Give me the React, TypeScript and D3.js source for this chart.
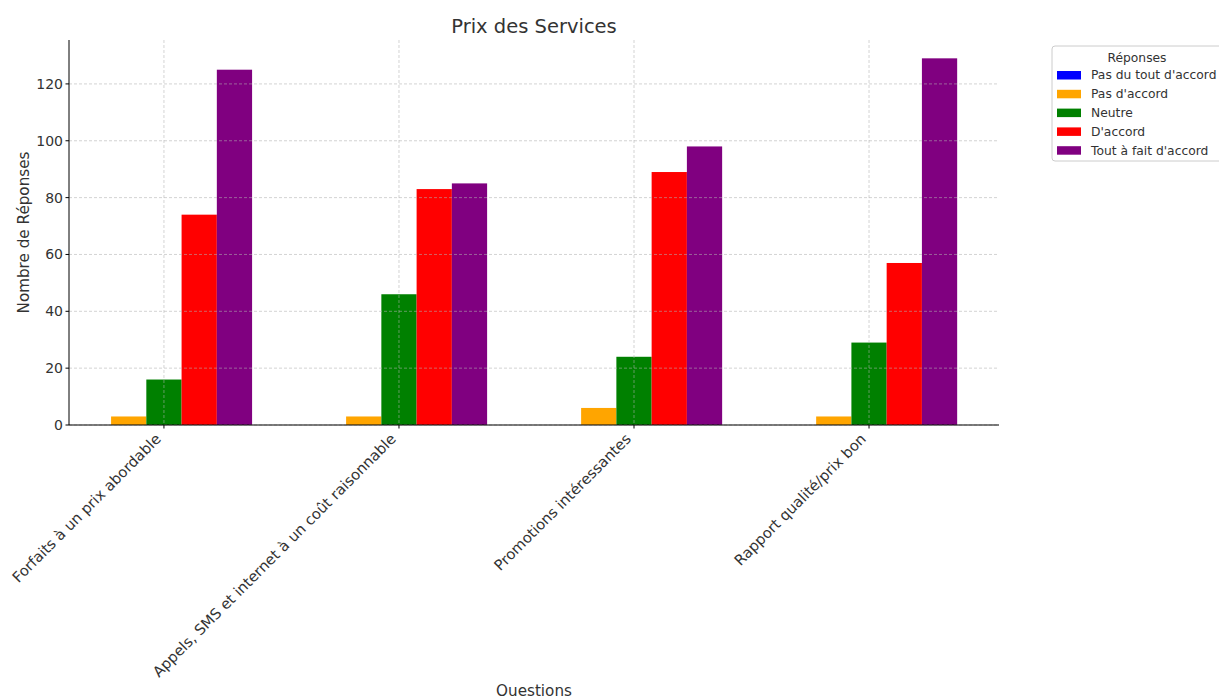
import React from "react";
import * as d3 from "d3";

const categories = [
  "Forfaits à un prix abordable",
  "Appels, SMS et internet à un coût raisonnable",
  "Promotions intéressantes",
  "Rapport qualité/prix bon",
];
const seriesNames = ["Pas du tout d'accord", "Pas d'accord", "Neutre", "D'accord", "Tout à fait d'accord"];
const seriesColors = ["blue", "orange", "green", "red", "purple"];
const pasDuTout = [0, 0, 0, 0];
const pasDaccord = [3, 3, 6, 3];
const neutre = [16, 46, 24, 29];
const daccord = [74, 83, 89, 57];
const toutAFait = [125, 85, 98, 129];
const seriesValues = [pasDuTout, pasDaccord, neutre, daccord, toutAFait];
const yTicks = [0, 20, 40, 60, 80, 100, 120];

const W = 1219;
const H = 696;
const left = 69;
const right = 999;
const top = 40;
const bottom = 425;
const font = "DejaVu Sans, sans-serif";
const textColor = "#333";

export default function App() {
  const x = d3.scaleLinear().domain([-0.404, 3.553]).range([left, right]);
  const y = d3.scaleLinear().domain([0, 135.45]).range([bottom, top]);
  const bw = 0.15;

  return (
    <svg width={W} height={H} style={{ position: "absolute", left: 0, top: 0, background: "white" }}>
      <text x={534} y={33} textAnchor="middle" fontFamily={font} fontSize={19.5} fill={textColor}>
        Prix des Services
      </text>
      {/* bars */}
      {seriesValues.map((vals, s) =>
        vals.map((v, i) => {
          const cx = i + (s - 2) * bw;
          const x0 = x(cx - bw / 2);
          const x1 = x(cx + bw / 2);
          return (
            <rect
              key={`${s}-${i}`}
              x={x0}
              y={y(v)}
              width={x1 - x0}
              height={y(0) - y(v)}
              fill={seriesColors[s]}
            />
          );
        })
      )}
      {/* grid */}
      {yTicks.map((t) => (
        <line
          key={`gy${t}`}
          x1={left}
          x2={right}
          y1={y(t)}
          y2={y(t)}
          stroke="#b0b0b0"
          strokeOpacity={0.7}
          strokeWidth={0.8}
          strokeDasharray="3,2"
        />
      ))}
      {categories.map((c, i) => (
        <line
          key={`gx${i}`}
          x1={x(i)}
          x2={x(i)}
          y1={top}
          y2={bottom}
          stroke="#b0b0b0"
          strokeOpacity={0.7}
          strokeWidth={0.8}
          strokeDasharray="3,2"
        />
      ))}
      {/* axes */}
      <line x1={left} x2={left} y1={top} y2={bottom} stroke="black" strokeWidth={1} />
      <line x1={left} x2={right} y1={bottom} y2={bottom} stroke="black" strokeWidth={1} />
      {yTicks.map((t) => (
        <g key={`yt${t}`}>
          <line x1={left - 3.5} x2={left} y1={y(t)} y2={y(t)} stroke="black" />
          <text
            x={left - 6}
            y={y(t)}
            dy="0.35em"
            textAnchor="end"
            fontFamily={font}
            fontSize={14}
            fill={textColor}
          >
            {t}
          </text>
        </g>
      ))}
      {categories.map((c, i) => (
        <g key={`xt${i}`}>
          <line x1={x(i)} x2={x(i)} y1={bottom} y2={bottom + 3.5} stroke="black" />
          <text
            transform={`translate(${x(i) - 10},${bottom + 7}) rotate(-45)`}
            textAnchor="end"
            dy="0.76em"
            fontFamily={font}
            fontSize={14.7}
            fill={textColor}
          >
            {c}
          </text>
        </g>
      ))}
      <text
        transform={`translate(29,${(top + bottom) / 2}) rotate(-90)`}
        textAnchor="middle"
        fontFamily={font}
        fontSize={15.2}
        fill={textColor}
      >
        Nombre de Réponses
      </text>
      <text x={534} y={696} textAnchor="middle" fontFamily={font} fontSize={15.2} fill={textColor}>
        Questions
      </text>
      {/* legend */}
      <rect x={1052} y={46} width={175} height={115} rx={3} fill="white" stroke="#ccc" strokeWidth={1} />
      <text x={1137} y={62} textAnchor="middle" fontFamily={font} fontSize={12.3} fill={textColor}>
        Réponses
      </text>
      {seriesNames.map((n, s) => (
        <g key={`lg${s}`}>
          <rect x={1057} y={71 + s * 18.8} width={24} height={8.5} fill={seriesColors[s]} />
          <text x={1091} y={75 + s * 18.8} dy="0.35em" fontFamily={font} fontSize={12.3} fill={textColor}>
            {n}
          </text>
        </g>
      ))}
    </svg>
  );
}
